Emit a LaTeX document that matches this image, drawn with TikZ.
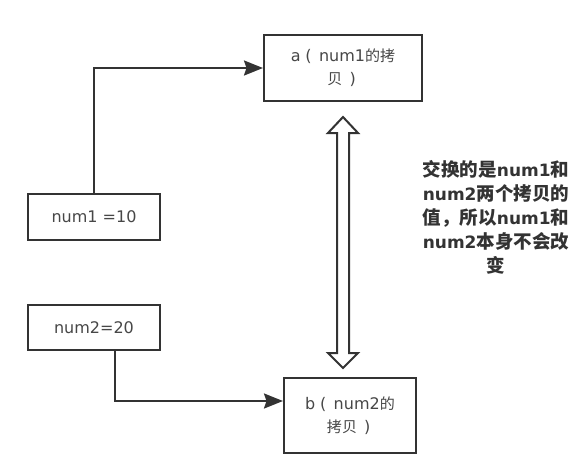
\documentclass[tikz,border=0pt]{standalone}
\usepackage{fontspec}
\usetikzlibrary{arrows.meta,calc}
\newfontfamily\latf{DejaVu Sans}
\newfontfamily\cjr[Scale=0.94]{Noto Sans CJK SC}
\newfontfamily\cjbf[Scale=1.09]{Noto Sans CJK SC}
\newcommand\zh[1]{{\cjr #1}}
\newcommand\zb[1]{{\cjbf\bfseries #1}}
\newcommand\flp{\makebox[1.15em][l]{\hspace{0.3em}(}}
\newcommand\frp{\makebox[1em][l]{\hspace{0.45em})}}
\definecolor{ln}{HTML}{333333}
\definecolor{tx}{HTML}{474747}
\begin{document}
\begin{tikzpicture}[x=1pt,y=-1pt,
  box/.style={draw=ln,line width=2pt,fill=white,inner sep=0pt,align=center,text=tx,font=\latf\fontsize{16}{23}\selectfont},
  conn/.style={draw=ln,line width=2pt,-{Stealth[length=19pt,width=15pt,inset=2.5pt]}},
  flex/.style={draw=ln,line width=2pt,fill=white,line join=miter},
  note/.style={align=center,text=ln,font=\latf\bfseries\fontsize{17}{24}\selectfont,inner sep=0pt}]
\path[use as bounding box] (0,0) rectangle (582,461);
\node[box,minimum width=158pt,minimum height=66pt] (a) at (343,68) {a\flp num1\zh{的拷}\\\zh{贝}\frp\hspace{0.8em}};
\node[box,minimum width=132pt,minimum height=46pt] (n1) at (94,217) {num1 =10};
\node[box,minimum width=132pt,minimum height=45pt] (n2) at (94,327.5) {num2=20};
\node[box,minimum width=132pt,minimum height=75pt] (b) at (350,415.5) {b\flp num2\zh{的}\\\zh{拷贝}\frp\hspace{0.8em}};
\draw[conn] (n1.north) |- (a.west);
\draw[conn] ([xshift=21pt]n2.south) |- ([yshift=14.5pt]b.west);
\coordinate (dt) at (343,117);
\coordinate (db) at (343,368);
\draw[flex] (dt) -- ($(dt)+(15,16)$) -- ($(dt)+(6,16)$) -- ($(db)+(6,-15)$) -- ($(db)+(15,-15)$) -- (db)
  -- ($(db)+(-15,-15)$) -- ($(db)+(-6,-15)$) -- ($(dt)+(-6,16)$) -- ($(dt)+(-15,16)$) -- cycle;
\node[note] (t) at (496,217.5) {\zb{交换的是}num1\zb{和}\\num2\zb{两个拷贝的}\\\zb{值，所以}num1\zb{和}\\num2\zb{本身不会改}\\\zb{变}};
\end{tikzpicture}
\end{document}
